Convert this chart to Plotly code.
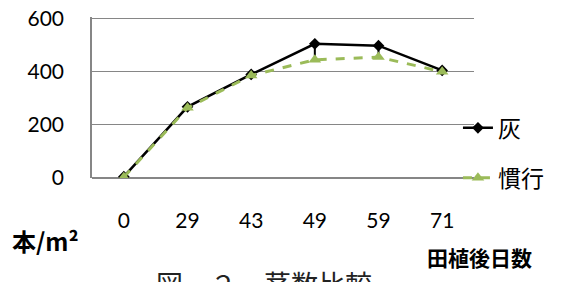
import plotly.graph_objects as go

days = ["0", "29", "43", "49", "59", "71"]
ash = [5, 268, 390, 505, 498, 405]
ash_err_minus = [0, 0, 0, 60, 43, 0]
conventional = [3, 264, 386, 445, 455, 400]
y_ticks = [0, 200, 400, 600]

fig = go.Figure()
fig.add_trace(go.Scatter(
    x=days, y=ash, name="灰", mode="lines+markers",
    line=dict(color="black", width=2.5),
    marker=dict(symbol="diamond", size=9, color="black"),
    error_y=dict(type="data", symmetric=False, array=[0]*6, arrayminus=ash_err_minus,
                 color="black", thickness=2, width=0),
    legendgroup="a",
))
fig.add_trace(go.Scatter(
    x=days, y=conventional, name="慣行", mode="lines+markers",
    line=dict(color="#9BBB59", width=3, dash="dash"),
    marker=dict(symbol="triangle-up", size=11, color="#9BBB59"),
    legendgroup="b",
))

W, H = 554, 274
L, T, PW, PH = 84, 9, 382, 161
fig.update_layout(
    width=W, height=H,
    margin=dict(l=L, r=W - L - PW, t=T, b=H - T - PH, autoexpand=False),
    plot_bgcolor="white", paper_bgcolor="white",
    font=dict(family="Lato, Noto Sans CJK JP", size=21, color="black"),
    showlegend=True,
    legend=dict(x=0.958, y=0.445, xanchor="left", yanchor="top",
                font=dict(size=23, family="Noto Sans CJK JP"),
                tracegroupgap=17, itemwidth=30, bgcolor="rgba(0,0,0,0)"),
    xaxis=dict(type="category", range=[-0.5, 5.5], showgrid=False,
               showline=False, ticks="", ticklabelstandoff=28,
               tickfont=dict(size=21), zeroline=False),
    yaxis=dict(range=[0, 606], tickvals=y_ticks, showgrid=True, gridcolor="#868686",
               gridwidth=1, showline=True, linecolor="#868686", linewidth=1.5,
               ticks="", ticklabelstandoff=22, ticklabeloverflow="allow",
               tickfont=dict(size=21), zeroline=True,
               zerolinecolor="#868686", zerolinewidth=1.5),
    annotations=[
        dict(text="<b>本/m²</b>", xref="paper", yref="paper", x=-0.215, y=-0.39,
             xanchor="left", yanchor="middle", showarrow=False,
             font=dict(size=24, family="Noto Sans CJK JP")),
        dict(text="<b>田植後日数</b>", xref="paper", yref="paper", x=0.873, y=-0.49,
             xanchor="left", yanchor="middle", showarrow=False,
             font=dict(size=21, family="Noto Sans CJK JP")),
        dict(text="図－２　茎数比較", xref="paper", yref="paper", x=0.45, y=-0.52,
             xanchor="center", yanchor="top", showarrow=False,
             font=dict(size=27, family="Noto Sans CJK JP", color="#222222")),
    ],
)

fig.write_html("out.html")
